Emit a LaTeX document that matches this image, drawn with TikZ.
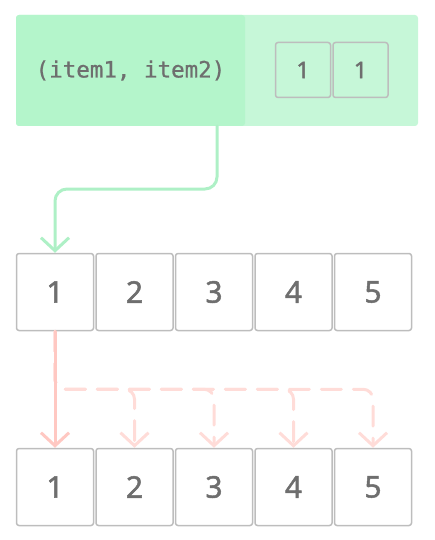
\documentclass[tikz,border=0pt]{standalone}
\usepackage{fontspec}
\setmainfont{Noto Sans}[FakeBold=1.6]
\newfontfamily\tuplefont{DejaVu Sans Mono}
\usepackage{tikz}
\usetikzlibrary{calc,arrows.meta}
\usetikzlibrary{positioning}
\definecolor{cb-text}{HTML}{6E6E6E}
\definecolor{cb-border}{HTML}{BDBDBD}
\definecolor{cb-pair}{HTML}{B4F5CB}
\definecolor{cb-count}{HTML}{C6F7D8}
\definecolor{cb-green}{HTML}{AEF0C6}
\definecolor{cb-red}{HTML}{FFC8C2}
\definecolor{cb-redlight}{HTML}{FFDCD8}

\begin{document}
\begin{tikzpicture}[
    x=1pt, y=1pt,
    node distance=1pt and 1pt,
    >={Straight Barb[length=13pt,width=28pt]}
  ]

  % Global Style Definitions
  \tikzset{
    cell/.style={draw=cb-border, line width=1.5pt, rounded corners=2.5pt, minimum width=77pt, minimum height=77pt, text=cb-text, font=\bfseries\fontsize{30}{36}\selectfont, inner sep=0pt},
    smallcell/.style={draw=cb-border, line width=1.5pt, rounded corners=2.5pt, minimum width=55pt, minimum height=55pt, text=cb-text, font=\bfseries\fontsize{23}{28}\selectfont, inner sep=0pt},
    greenline/.style={->, cb-green, line width=3pt, line cap=round, rounded corners=12pt},
    redline/.style={->, cb-red, line width=3pt, line cap=round},
    fanline/.style={->, cb-redlight, line width=3pt, line cap=round, rounded corners=10pt, dash pattern=on 20pt off 12pt}
  }

  \useasboundingbox (0,0) rectangle (435,-540);

  % Tuple Header (counter part runs under the tuple part)
  \node (cnt) [fill=cb-count, rounded corners=3pt, minimum width=402pt, minimum height=111pt, inner sep=0pt] at (217,-70.5) {};
  \node (tup) [fill=cb-pair, rounded corners=3pt, minimum width=229pt, minimum height=111pt, inner sep=0pt, text=cb-text, font=\tuplefont\addfontfeature{FakeBold=0.9}\fontsize{22.5}{27}\selectfont] at (130.5,-70.5) {(item1, item2)};
  \node (c1) [smallcell] at (303,-70) {1};
  \node (c2) [smallcell, right=1pt of c1] {1};
  \coordinate (gstart) at (217,-126);

  % Middle Row
  \node (m1) [cell] at (55,-292) {1};
  \foreach \i [remember=\i as \j (initially 1)] in {2,...,5}
    \node (m\i) [cell, right=1pt of m\j] {\i};

  % Bottom Row
  \node (b1) [cell] at (55,-487) {1};
  \foreach \i [remember=\i as \j (initially 1)] in {2,...,5}
    \node (b\i) [cell, right=1pt of b\j] {\i};

  % Tuple into first cell
  \draw[greenline] (gstart) -- ++(0,-63) -| (m1.north);

  % Fan out from first cell
  \foreach \i in {2,...,5}
    \draw[fanline] (m1.south) -- ++(0,-58) -| (b\i.north);
  \draw[redline] (m1.south) -- (b1.north);

\end{tikzpicture}
\end{document}
